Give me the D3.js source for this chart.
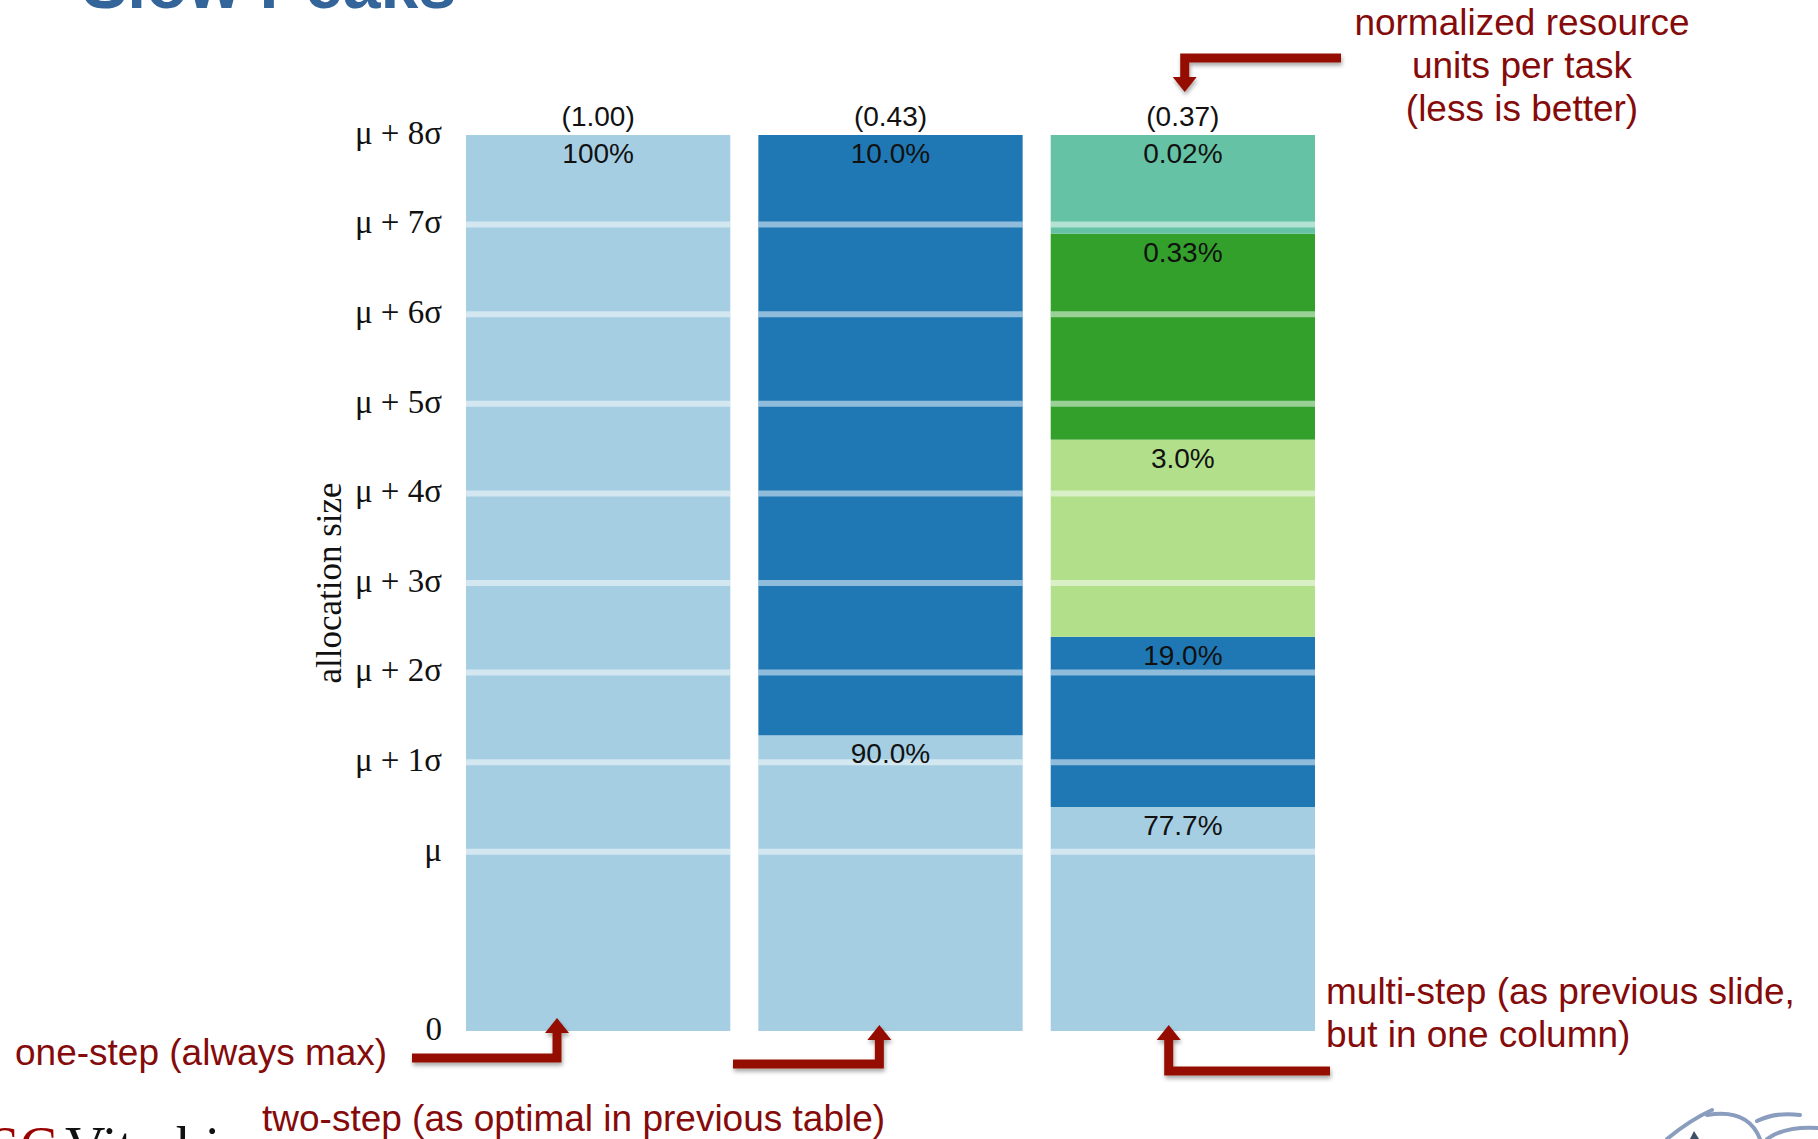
<!DOCTYPE html>
<html>
<head>
<meta charset="utf-8">
<script src="https://cdn.jsdelivr.net/npm/d3@7"></script>
<style>
  body { margin: 0; background: #fff; }
  svg { display: block; }
</style>
</head>
<body>
<div id="chart"></div>
<script>
// strategies (one column each) and their normalized resource units per task
const categories = ['one-step', 'two-step', 'multi-step']
const costs = [1.00, 0.43, 0.37]

// allocation axis, in sigma units with mu = 2
const tickValues = [0, 2, 3, 4, 5, 6, 7, 8, 9, 10]
const tickLabels = ['0', 'μ', 'μ + 1σ', 'μ + 2σ', 'μ + 3σ', 'μ + 4σ', 'μ + 5σ', 'μ + 6σ', 'μ + 7σ', 'μ + 8σ']
const gridValues = [2, 3, 4, 5, 6, 7, 8, 9]

// allocation steps: which column, from / to level, share of tasks, step tier
const segBar = [0, 1, 1, 2, 2, 2, 2, 2]
const segFrom = [0, 0, 3.3, 0, 2.5, 4.4, 6.6, 8.9]
const segTo = [10, 3.3, 10, 2.5, 4.4, 6.6, 8.9, 10]
const segShare = ['100%', '90.0%', '10.0%', '77.7%', '19.0%', '3.0%', '0.33%', '0.02%']
const segTier = [0, 0, 1, 0, 1, 2, 3, 4]

const W = 1818, H = 1139
const red = '#941100', textRed = '#850b0b'

const svg = d3.select('#chart').append('svg')
  .attr('width', W)
  .attr('height', H)

const defs = svg.append('defs')
defs.append('filter')
  .attr('id', 'shadow')
  .attr('x', '-20%').attr('y', '-50%').attr('width', '140%').attr('height', '200%')
  .append('feDropShadow')
  .attr('dx', 1).attr('dy', 3).attr('stdDeviation', 2)
  .attr('flood-color', '#000').attr('flood-opacity', 0.35)

const y = d3.scaleLinear()
  .domain([0, 10])
  .range([1031, 135])

const x = d3.scaleBand()
  .domain(categories)
  .range([466, 1315])
  .paddingInner(0.096)

const color = d3.scaleOrdinal()
  .domain([0, 1, 2, 3, 4])
  .range(['#a6cee3', '#1f78b4', '#b2df8a', '#33a02c', '#66c2a5'])

const segs = segBar.map((b, i) => ({
  cat: categories[b], from: segFrom[i], to: segTo[i], share: segShare[i], tier: segTier[i]
}))

// slide title (mostly above the visible area)
svg.append('text')
  .attr('x', 82)
  .attr('y', 8)
  .style('font-family', '"Liberation Sans", Arial, sans-serif')
  .style('font-weight', 'bold')
  .style('font-size', '68px')
  .style('fill', '#34659a')
  .text('Slow Peaks')

const chart = svg.append('g')

chart.selectAll('rect.seg')
  .data(segs)
  .enter().append('rect')
  .attr('class', 'seg')
  .attr('x', d => x(d.cat))
  .attr('width', x.bandwidth())
  .attr('y', d => y(d.to))
  .attr('height', d => y(d.from) - y(d.to))
  .style('fill', d => color(d.tier))

// light grid lines across every column
categories.forEach(c => {
  chart.selectAll(null)
    .data(gridValues)
    .enter().append('line')
    .attr('x1', x(c))
    .attr('x2', x(c) + x.bandwidth())
    .attr('y1', d => y(d))
    .attr('y2', d => y(d))
    .style('stroke', '#fff')
    .style('stroke-opacity', 0.5)
    .style('stroke-width', 6)
})

chart.selectAll('text.share')
  .data(segs)
  .enter().append('text')
  .attr('class', 'share')
  .attr('x', d => x(d.cat) + x.bandwidth() / 2)
  .attr('y', d => y(d.to) + 28)
  .attr('text-anchor', 'middle')
  .style('font-family', '"Liberation Sans", Arial, sans-serif')
  .style('font-size', '28px')
  .style('fill', '#111')
  .text(d => d.share)

chart.selectAll('text.cost')
  .data(categories)
  .enter().append('text')
  .attr('class', 'cost')
  .attr('x', d => x(d) + x.bandwidth() / 2)
  .attr('y', y(10) - 9)
  .attr('text-anchor', 'middle')
  .style('font-family', '"Liberation Sans", Arial, sans-serif')
  .style('font-size', '28px')
  .style('fill', '#111')
  .text((d, i) => '(' + costs[i].toFixed(2) + ')')

const yAxis = d3.axisLeft(y)
  .tickValues(tickValues)
  .tickFormat((d, i) => tickLabels[i])
  .tickSize(0)
  .tickPadding(24)
const yGuide = svg.append('g')
  .attr('transform', 'translate(' + x(categories[0]) + ',0)')
  .call(yAxis)
yGuide.select('.domain').remove()
yGuide.selectAll('text')
  .attr('dy', '0.25em')
  .style('font-family', '"Liberation Serif", "Times New Roman", serif')
  .style('font-size', '33px')
  .style('fill', '#111')

svg.append('text')
  .attr('transform', 'translate(341,583) rotate(-90)')
  .attr('text-anchor', 'middle')
  .style('font-family', '"Liberation Serif", "Times New Roman", serif')
  .style('font-size', '35px')
  .style('fill', '#111')
  .text('allocation size')

// annotations
const note = (lines, px, py, anchor) => {
  const t = svg.append('text')
    .attr('text-anchor', anchor)
    .style('font-family', '"Liberation Sans", Arial, sans-serif')
    .style('font-size', '37px')
    .style('fill', textRed)
  lines.forEach((l, i) => {
    t.append('tspan').attr('x', px).attr('y', py + i * 43).text(l)
  })
}
note(['normalized resource', 'units per task', '(less is better)'], 1522, 35, 'middle')
note(['one-step (always max)'], 15, 1065, 'start')
note(['two-step (as optimal in previous table)'], 262, 1131, 'start')
note(['multi-step (as previous slide,', 'but in one column)'], 1326, 1004, 'start')

// elbow arrows: start -> corner -> tip
const arrow = (sx, sy, cx, cy, tx, ty) => {
  const dir = Math.sign(ty - cy)
  const head = 15, half = 12
  const g = svg.append('g').attr('filter', 'url(#shadow)')
  g.append('path')
    .attr('d', d3.line()([[sx, sy], [cx, cy], [tx, ty - dir * head]]))
    .style('fill', 'none')
    .style('stroke', red)
    .style('stroke-width', 9)
    .style('stroke-linejoin', 'miter')
  g.append('path')
    .attr('d', d3.line()([[tx - half, ty - dir * head], [tx + half, ty - dir * head], [tx, ty]]) + 'Z')
    .style('fill', red)
}
const base = y(0)
arrow(1341, 58, x('multi-step') + 134, 58, x('multi-step') + 134, y(10) - 43)
arrow(412, base + 27, x('one-step') + 91, base + 27, x('one-step') + 91, base - 13)
arrow(733, base + 33, x('two-step') + 121, base + 33, x('two-step') + 121, base - 6)
arrow(1330, base + 40, x('multi-step') + 118, base + 40, x('multi-step') + 118, base - 6)

// logo fragment, bottom left
svg.append('text')
  .attr('x', 57).attr('y', 1166)
  .attr('text-anchor', 'end')
  .style('font-family', '"Liberation Serif", "Times New Roman", serif')
  .style('font-size', '56px')
  .style('fill', '#990000')
  .text('USC')
svg.append('text')
  .attr('x', 65).attr('y', 1166)
  .style('font-family', '"Liberation Serif", "Times New Roman", serif')
  .style('font-size', '56px')
  .style('fill', '#111')
  .text('Viterbi')

// sketch fragment, bottom right
const sketch = svg.append('g')
  .style('fill', 'none')
  .style('stroke', '#8a9dbf')
  .style('stroke-width', 4)
  .style('stroke-linecap', 'round')
sketch.append('path').attr('d', 'M1667,1139 Q1690,1120 1712,1110')
sketch.append('path').attr('d', 'M1707,1115 Q1748,1108 1760,1139')
sketch.append('path').attr('d', 'M1757,1121 Q1775,1112 1800,1115')
sketch.append('path').attr('d', 'M1767,1139 Q1785,1126 1818,1128')
svg.append('path')
  .attr('d', 'M1690,1139 L1694,1131 L1699,1139 Z')
  .style('fill', '#3f4f66')
</script>
</body>
</html>
